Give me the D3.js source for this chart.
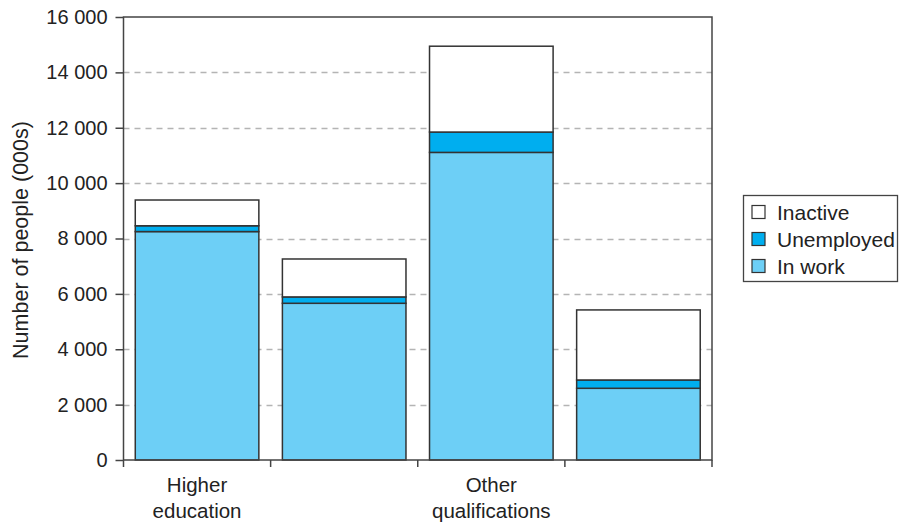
<!DOCTYPE html>
<html><head><meta charset="utf-8">
<script src="https://cdn.jsdelivr.net/npm/d3@7"></script>
<style>body{margin:0;background:#fff;} text{font-family:"Liberation Sans",Arial,sans-serif;fill:#222;}</style>
</head><body><svg id="c" width="904" height="524"></svg>
<script>
const categories = ["Higher education", "A levels", "Other qualifications", "No qualifications"];
const categoryLabels = [["Higher", "education"], [], ["Other", "qualifications"], []];
const inWork = [8250, 5660, 11110, 2590];
const unemployed = [210, 230, 735, 300];
const inactive = [930, 1370, 3100, 2530];
const seriesNames = ["In work", "Unemployed", "Inactive"];
const seriesColors = ["#6dcff6", "#00aeef", "#ffffff"];
const yTicks = [0, 2000, 4000, 6000, 8000, 10000, 12000, 14000, 16000];

const svg = d3.select("#c");
const m = {l:123.5, r:712, t:17, b:460};
const x = d3.scaleBand().domain(categories).range([m.l, m.r]).paddingInner(0.16).paddingOuter(0.08);
const y = d3.scaleLinear().domain([0, 16000]).range([m.b, m.t]);
const fmt2 = v => v === 0 ? "0" : d3.format(",")(v).replace(/,/g, " ");

// gridlines
svg.append("g").selectAll("line").data(yTicks.filter(t => t > 0 && t < 16000)).join("line")
  .attr("x1", m.l).attr("x2", m.r).attr("y1", d => Math.round(y(d))+0.5).attr("y2", d => Math.round(y(d))+0.5)
  .attr("stroke", "#b4b4b4").attr("stroke-width", 1.3).attr("stroke-dasharray", "6,5");

// stacked bars
const table = categories.map((c, i) => ({cat: c, "In work": inWork[i], "Unemployed": unemployed[i], "Inactive": inactive[i]}));
const stack = d3.stack().keys(seriesNames)(table);
svg.append("g").selectAll("g").data(stack).join("g")
  .attr("fill", (d, i) => seriesColors[i])
  .selectAll("rect").data(d => d).join("rect")
  .attr("x", d => x(d.data.cat)).attr("width", x.bandwidth())
  .attr("y", d => y(d[1])).attr("height", d => y(d[0]) - y(d[1]))
  .attr("stroke", "#333").attr("stroke-width", 1.5);

// frame
svg.append("rect").attr("x", m.l).attr("y", m.t).attr("width", m.r - m.l).attr("height", m.b - m.t)
  .attr("fill", "none").attr("stroke", "#444").attr("stroke-width", 1.5);

// y axis
const ya = d3.axisLeft(y).tickValues(yTicks).tickSize(8).tickPadding(8).tickFormat(fmt2);
const gy = svg.append("g").attr("transform", `translate(${m.l},0)`).call(ya);
gy.select(".domain").remove();
gy.selectAll(".tick line").attr("stroke", "#444").attr("stroke-width", 1.5);
gy.selectAll(".tick text").attr("font-size", 20).attr("font-family", "Liberation Sans, Arial, sans-serif").attr("fill", "#222");

// x axis ticks at category boundaries
const bounds = d3.range(categories.length + 1).map(i => m.l + i * (m.r - m.l) / categories.length);
svg.append("g").selectAll("line").data(bounds).join("line")
  .attr("x1", d => d).attr("x2", d => d).attr("y1", m.b).attr("y2", m.b + 7)
  .attr("stroke", "#444").attr("stroke-width", 1.5);

// x labels
svg.append("g").selectAll("text").data(categories).join("text")
  .attr("x", d => x(d) + x.bandwidth() / 2).attr("y", 492)
  .attr("text-anchor", "middle").attr("font-size", 20.5)
  .each(function(d, i) {
    d3.select(this).selectAll("tspan").data(categoryLabels[i]).join("tspan")
      .attr("x", x(d) + x.bandwidth() / 2).attr("dy", (t, j) => j === 0 ? 0 : 25.5).text(t => t);
  });

// y title
svg.append("text").attr("transform", "translate(28,240) rotate(-90)")
  .attr("text-anchor", "middle").attr("font-size", 21.5).text("Number of people (000s)");

// legend
const lg = svg.append("g");
lg.append("rect").attr("x", 743.5).attr("y", 195.5).attr("width", 154).attr("height", 86)
  .attr("fill", "#fff").attr("stroke", "#444").attr("stroke-width", 1.3);
const legendOrder = [2, 1, 0];
legendOrder.forEach((si, k) => {
  const cy = 212 + k * 27;
  lg.append("rect").attr("x", 752).attr("y", cy - 6.5).attr("width", 13).attr("height", 13)
    .attr("fill", seriesColors[si]).attr("stroke", "#333").attr("stroke-width", 1.2);
  lg.append("text").attr("x", 777).attr("y", cy + 7.5).attr("font-size", 21).text(seriesNames[si]);
});
</script></body></html>
